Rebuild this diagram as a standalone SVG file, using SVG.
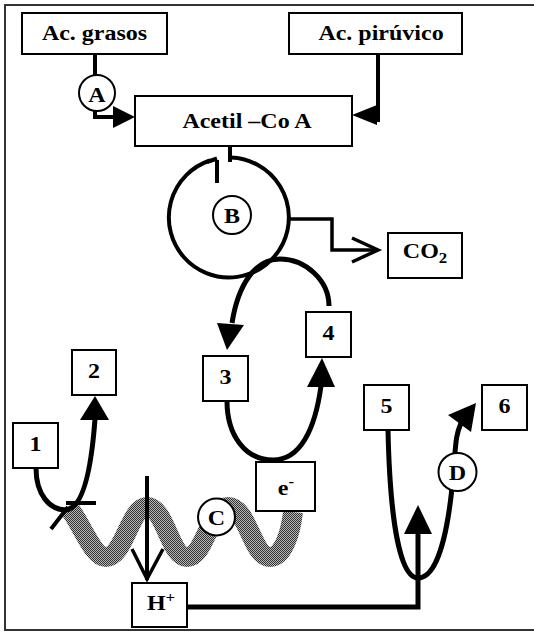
<svg xmlns="http://www.w3.org/2000/svg" width="534" height="632" viewBox="0 0 534 632">
<style>
.box{fill:#fff;stroke:#000;stroke-width:2}
.lbl{fill:#fff;stroke:#000;stroke-width:2}
.t{font-family:"Liberation Serif","Times New Roman",serif;font-weight:bold;font-size:20px;text-anchor:middle;fill:#000}
.ln{fill:none;stroke:#000;stroke-width:4}
.thick{fill:none;stroke:#000;stroke-width:5}
.ah{fill:#000;stroke:none}
.open{fill:none;stroke:#000;stroke-width:3.5}
</style>
<defs>
<pattern id="stip" width="2" height="2" patternUnits="userSpaceOnUse">
<rect width="2" height="2" fill="#b8b8b8"/>
<rect x="0" y="0" width="1" height="1" fill="#333"/>
<rect x="1" y="1" width="1" height="1" fill="#333"/>
</pattern>
</defs>
<rect width="534" height="632" fill="#fff"/>
<path d="M545,5 H5 V630 H545" fill="none" stroke="#333" stroke-width="2"/>

<g id="membrane">
<path d="M68,507 C80,520 92,557 106,557 C124,557 130,507 147,507 C165,507 170,557 187,557 C205,557 210,507 228,507 C248,507 252,557 270,557 C284,557 291,530 293,512" fill="none" stroke="url(#stip)" stroke-width="20"/>
</g>

<g id="connectors">
<path class="ln" d="M95,54 V117 H115"/>
<polygon class="ah" points="113,106 135,117 113,128"/>
<path class="ln" d="M378,54 V122"/>
<polygon class="ah" points="352,115 377,105 377,125"/>
<path class="ln" d="M230,146 V162"/>
<path class="ln" d="M231,157.5 A60,60 0 1 1 210,160.5"/>
<path class="ln" d="M207,162 L217,158.5 M217,160 V183"/>
<path class="open" d="M289,219 H332 V250 H376"/>
<path class="open" d="M352,238 L378,250 L352,262"/>
<path class="thick" d="M329,306 C329,280 305,259 280,259 C255,259 238,285 232,323"/>
<polygon class="ah" points="227,350 217,323 244,325"/>
<path class="thick" d="M227,401 C227,435 245,460 273,460 C300,460 315,430 321,386"/>
<polygon class="ah" points="322,358 307,387 335,387"/>
<path class="thick" d="M36,468 C36,495 50,510 66,510 C85,508 92,460 95,419"/>
<polygon class="ah" points="95,396 80,420 109,420"/>
<path class="ln" d="M66,503 H96 M51,529 L68,507"/>
<path class="ln" d="M147,476 V580"/>
<path class="open" d="M132,549 L147,579 L163,549"/>
<path class="thick" d="M187,607 H418 V533"/>
<polygon class="ah" points="418,505 404,534 432,534"/>
<path class="thick" d="M388,430 C390,520 400,578 418,578 C440,578 450,520 454,465 C456,440 456,435 461,423"/>
<polygon class="ah" points="476,403 448,415 471,432"/>
</g>

<g id="n-grasos"><rect class="box" x="22" y="13" width="145" height="41"/><text class="t" transform="translate(94.5,40) scale(1.2,1)">Ac. grasos</text></g>
<g id="n-piruvico"><rect class="box" x="289" y="13" width="173" height="41"/><text class="t" transform="translate(381,40) scale(1.2,1)">Ac. pirúvico</text></g>
<g id="n-acetil"><rect class="box" x="135" y="96" width="217" height="50"/><text class="t" transform="translate(247,128) scale(1.2,1)">Acetil –Co A</text></g>
<g id="n-A"><circle class="lbl" cx="97" cy="93" r="18"/><text class="t" transform="translate(97,102) scale(1.2,1)">A</text></g>
<g id="n-B"><circle class="lbl" cx="232" cy="215" r="19"/><text class="t" transform="translate(232,223) scale(1.2,1)">B</text></g>
<g id="n-co2"><rect class="box" x="388" y="233" width="74" height="45"/><text class="t" transform="translate(425,258) scale(1.2,1)">CO<tspan font-size="14" dy="5">2</tspan></text></g>
<g id="n-1"><rect class="box" x="13" y="423" width="45" height="45"/><text class="t" transform="translate(35.5,451) scale(1.2,1)">1</text></g>
<g id="n-2"><rect class="box" x="72" y="350" width="44" height="45"/><text class="t" transform="translate(94,378) scale(1.2,1)">2</text></g>
<g id="n-3"><rect class="box" x="203" y="356" width="45" height="45"/><text class="t" transform="translate(225.5,384) scale(1.2,1)">3</text></g>
<g id="n-4"><rect class="box" x="306" y="312" width="45" height="45"/><text class="t" transform="translate(328.5,340) scale(1.2,1)">4</text></g>
<g id="n-5"><rect class="box" x="364" y="385" width="45" height="45"/><text class="t" transform="translate(386.5,413) scale(1.2,1)">5</text></g>
<g id="n-6"><rect class="box" x="482" y="385" width="45" height="45"/><text class="t" transform="translate(504.5,413) scale(1.2,1)">6</text></g>
<g id="n-e"><rect class="box" x="256" y="462" width="59" height="49"/><text class="t" transform="translate(286,495) scale(1.2,1)">e<tspan font-size="14" dy="-9">-</tspan></text></g>
<g id="n-C"><circle class="lbl" cx="216.5" cy="517" r="18.5"/><text class="t" transform="translate(216.5,525) scale(1.2,1)">C</text></g>
<g id="n-D"><circle class="lbl" cx="457.5" cy="472" r="19"/><text class="t" transform="translate(457.5,480) scale(1.2,1)">D</text></g>
<g id="n-H"><rect class="box" x="132" y="583" width="55" height="44"/><text class="t" transform="translate(161,610) scale(1.2,1)">H<tspan font-size="14" dy="-8">+</tspan></text></g>
</svg>
